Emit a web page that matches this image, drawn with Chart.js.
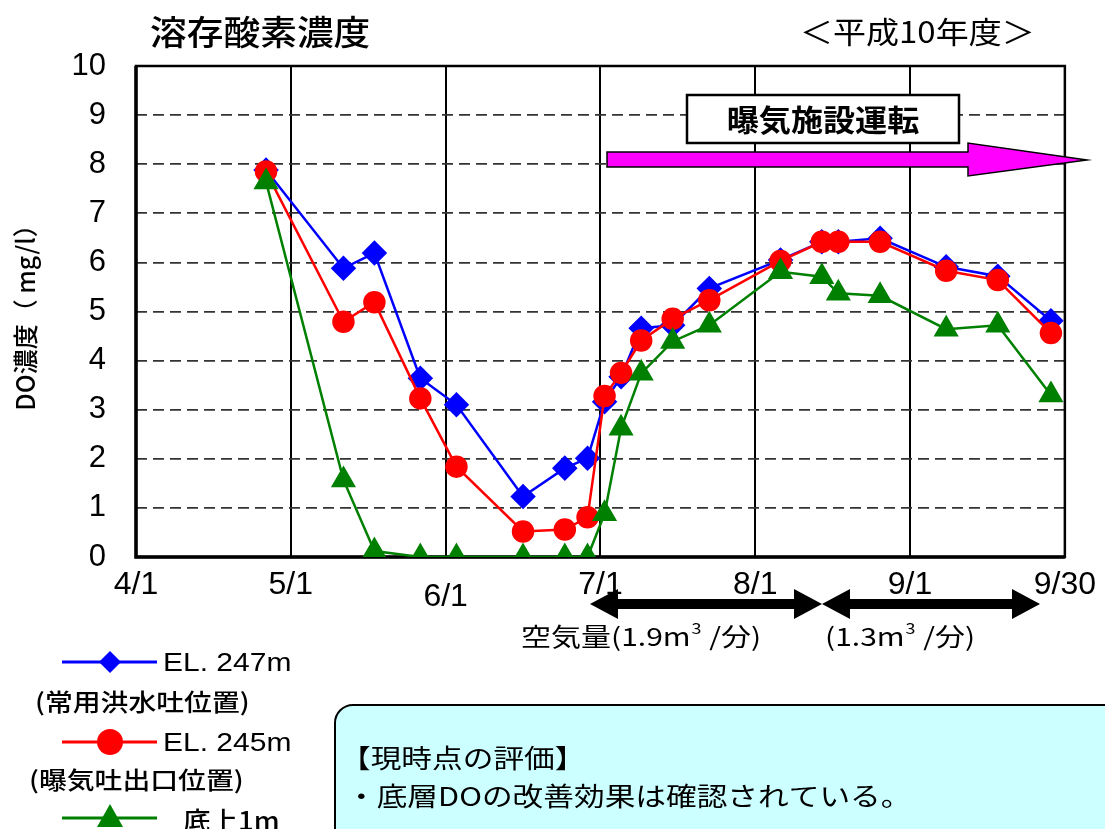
<!DOCTYPE html>
<html><head><meta charset="utf-8">
<script src="https://cdn.jsdelivr.net/npm/chart.js@4"></script>
<style>html,body{margin:0;padding:0;background:#fff}canvas{display:block}</style>
</head><body><canvas id="c" width="1105" height="829"></canvas>
<script>
// x position in days from 4/1 (one month = 30 units on the axis)
const days     = [25.2, 40.2, 46.2, 55.1, 62.1, 75.0, 83.1, 87.5, 90.8, 94.0, 97.9, 104.0, 111.1, 124.9, 132.9, 136.1, 144.2, 157.0, 167.0, 177.3];
const el247    = [7.88, 5.88, 6.19, 3.64, 3.10, 1.23, 1.81, 2.01, 3.16, 3.67, 4.66, 4.72, 5.47, 6.05, 6.42, 6.42, 6.49, 5.91, 5.72, 4.81];
const el245    = [7.85, 4.79, 5.19, 3.23, 1.84, 0.52, 0.56, 0.81, 3.28, 3.75, 4.41, 4.85, 5.23, 6.03, 6.42, 6.42, 6.42, 5.83, 5.64, 4.56];
const bottom1m = [7.64, 1.57, 0.12, 0, 0, 0, 0, 0, 0.88, 2.62, 3.74, 4.39, 4.72, 5.81, 5.71, 5.37, 5.32, 4.64, 4.72, 3.30];
const xTickValues = [0, 30, 60, 90, 120, 150, 180];
const xTickLabels = ['4/1', '5/1', '6/1', '7/1', '8/1', '9/1', '9/30'];
const seriesNames = ['EL. 247m', 'EL. 245m', '底上1m'];

const CJK = '"Noto Sans CJK JP", sans-serif';
const LAT = '"Liberation Sans", Arial, sans-serif';

function pts(vals) { return days.map((d, i) => ({ x: d, y: vals[i] })); }

const deco = {
  id: 'deco',
  beforeDatasetsDraw(chart) {
    const { ctx, chartArea: a } = chart;
    ctx.save();
    ctx.strokeStyle = '#000';
    ctx.lineWidth = 2.5;
    ctx.strokeRect(a.left, a.top, a.right - a.left, a.bottom - a.top);
    ctx.lineWidth = 3.5;
    ctx.beginPath();
    ctx.moveTo(a.left, a.top); ctx.lineTo(a.left, a.bottom); ctx.lineTo(a.right, a.bottom);
    ctx.stroke();
    ctx.restore();
  },
  afterDraw(chart) {
    const ctx = chart.ctx;
    // draw text stretched horizontally by sx
    function txt(str, x, y, font, sx, align, base) {
      ctx.save();
      ctx.font = font;
      ctx.textAlign = align || 'left';
      ctx.textBaseline = base || 'middle';
      ctx.translate(x, y);
      ctx.scale(sx, 1);
      ctx.fillText(str, 0, 0);
      const w = ctx.measureText(str).width * sx;
      ctx.restore();
      return w;
    }
    ctx.save();
    ctx.fillStyle = '#000';
    // titles
    txt('溶存酸素濃度', 150, 32, '500 34px ' + CJK, 1.08);
    txt('＜平成10年度＞', 800, 32, '30px ' + CJK, 1.1);

    // magenta arrow
    ctx.beginPath();
    ctx.moveTo(607, 152); ctx.lineTo(968, 152); ctx.lineTo(968, 143); ctx.lineTo(1087, 160);
    ctx.lineTo(968, 176); ctx.lineTo(968, 167); ctx.lineTo(607, 167); ctx.closePath();
    ctx.fillStyle = '#ff00ff'; ctx.fill();
    ctx.lineWidth = 1.5; ctx.strokeStyle = '#000'; ctx.stroke();

    // label box
    ctx.fillStyle = '#fff';
    ctx.fillRect(687, 95, 272, 48);
    ctx.lineWidth = 2.5; ctx.strokeRect(687, 95, 272, 48);
    ctx.fillStyle = '#000';
    txt('曝気施設運転', 823, 120, 'bold 30px ' + CJK, 1.07, 'center');

    // double arrows
    function dbl(x1, x2, y) {
      const h = 5, H = 15, L = 28;
      ctx.beginPath();
      ctx.moveTo(x1, y); ctx.lineTo(x1 + L, y - H); ctx.lineTo(x1 + L, y - h); ctx.lineTo(x2 - L, y - h);
      ctx.lineTo(x2 - L, y - H); ctx.lineTo(x2, y); ctx.lineTo(x2 - L, y + H); ctx.lineTo(x2 - L, y + h);
      ctx.lineTo(x1 + L, y + h); ctx.lineTo(x1 + L, y + H); ctx.closePath();
      ctx.fillStyle = '#000'; ctx.fill();
    }
    dbl(590, 822, 604);
    dbl(822, 1040, 604);

    // air amount texts with superscript
    function sup(x, y, a, s, b) {
      const sx = 1.2;
      let w = txt(a, x, y, '25px ' + CJK, sx, 'left', 'alphabetic');
      w += txt(s, x + w + 1, y - 12, '15px ' + CJK, sx, 'left', 'alphabetic') + 2;
      txt(b, x + w, y, '25px ' + CJK, sx, 'left', 'alphabetic');
    }
    ctx.fillStyle = '#000';
    sup(521, 646, '空気量(1.9m', '3', ' /分)');
    sup(825, 646, '(1.3m', '3', ' /分)');

    // legend
    const colors = ['#0000ff', '#ff0000', '#008000'];
    const ly = [662, 742, 818];
    for (let i = 0; i < 3; i++) {
      ctx.strokeStyle = colors[i]; ctx.fillStyle = colors[i]; ctx.lineWidth = 3;
      ctx.beginPath(); ctx.moveTo(62, ly[i]); ctx.lineTo(157, ly[i]); ctx.stroke();
      ctx.beginPath();
      if (i === 0) { ctx.moveTo(99, 662); ctx.lineTo(110, 651); ctx.lineTo(121, 662); ctx.lineTo(110, 673); }
      else if (i === 1) { ctx.arc(110, 742, 13, 0, Math.PI * 2); }
      else { ctx.moveTo(110, 804); ctx.lineTo(123, 827); ctx.lineTo(97, 827); }
      ctx.closePath(); ctx.fill();
    }
    ctx.fillStyle = '#000';
    txt(seriesNames[0], 163, 664, '25px ' + LAT, 1.2);
    txt(seriesNames[1], 163, 744, '25px ' + LAT, 1.2);
    txt('(常用洪水吐位置)', 35, 702, '500 24px ' + CJK, 1.16);
    txt('(曝気吐出口位置)', 29, 780, '500 24px ' + CJK, 1.16);
    txt(seriesNames[2], 183, 820, '500 25px ' + CJK, 1.1);

    // evaluation box
    ctx.beginPath();
    ctx.roundRect(335, 705, 820, 200, 18);
    ctx.fillStyle = '#ccffff'; ctx.fill();
    ctx.lineWidth = 2; ctx.strokeStyle = '#000'; ctx.stroke();
    ctx.fillStyle = '#000';
    txt('【現時点の評価】', 340, 758, '26px ' + CJK, 1.18);
    txt('・底層DOの改善効果は確認されている。', 346, 796, '26px ' + CJK, 1.18);
    ctx.restore();
  }
};

new Chart(document.getElementById('c'), {
  type: 'line',
  data: {
    datasets: [
      { label: seriesNames[0], data: pts(el247), borderColor: '#0000ff', backgroundColor: '#0000ff',
        borderWidth: 2.5, pointStyle: 'rectRot', pointRadius: 11, order: 3 },
      { label: seriesNames[1], data: pts(el245), borderColor: '#ff0000', backgroundColor: '#ff0000',
        borderWidth: 2.5, pointStyle: 'circle', pointRadius: 10, order: 2 },
      { label: seriesNames[2], data: pts(bottom1m), borderColor: '#008000', backgroundColor: '#008000',
        borderWidth: 2.5, pointStyle: 'triangle', pointRadius: 12, order: 1 }
    ]
  },
  options: {
    responsive: false,
    animation: false,
    layout: { padding: { top: 66, right: 36, left: 0, bottom: 0 } },
    plugins: { legend: { display: false }, tooltip: { enabled: false } },
    scales: {
      x: {
        type: 'linear', min: 0, max: 180,
        afterBuildTicks: s => { s.ticks = xTickValues.map(v => ({ value: v })); },
        afterFit: s => { s.height = 272; },
        ticks: {
          callback: (v, i) => (i === 2 ? ['', xTickLabels[i]] : xTickLabels[i]),
          font: c => ({ size: 32, family: LAT, lineHeight: c.index === 2 ? 0.65 : 1.2 }),
          color: '#000', padding: 9, maxRotation: 0, autoSkip: false
        },
        grid: { color: '#000', lineWidth: 2, drawTicks: false },
        border: { display: false }
      },
      y: {
        min: 0, max: 10,
        afterFit: s => { s.width = 136; },
        ticks: { stepSize: 1, font: { size: 31, family: LAT }, color: '#000', padding: 30 },
        grid: { color: '#333', lineWidth: 1.8, drawTicks: false },
        border: { display: false, dash: [11, 6] },
        title: { display: true, text: 'DO濃度（ mg/l）', font: { size: 25, family: CJK, weight: '500' }, color: '#000',
                 padding: { top: 10, bottom: 0 } }
      }
    }
  },
  plugins: [deco]
});
</script>
</body></html>
